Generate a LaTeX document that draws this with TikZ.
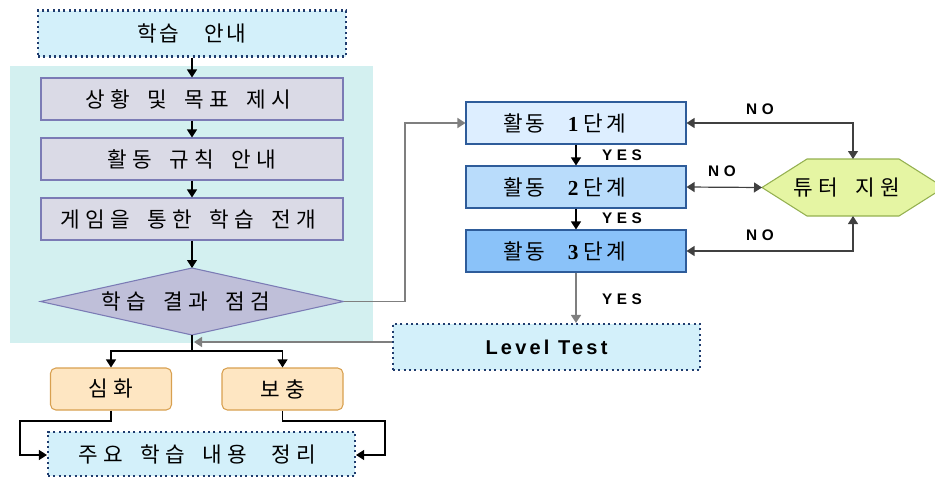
\documentclass[tikz,border=0pt]{standalone}
\usepackage{fontspec}
\setmainfont{Liberation Sans}
\newfontfamily\ko{Noto Sans CJK KR}
\newfontfamily\numf{Liberation Serif}
\newfontfamily\labf[LetterSpace=30]{Liberation Sans}
\newfontfamily\ltf[LetterSpace=16]{Liberation Sans}
\newcommand{\kc}[1]{\makebox[18.75pt]{#1}}
\newcommand{\kgs}{\hspace{2pt}}
\usetikzlibrary{arrows.meta}
\definecolor{bgcyan}{HTML}{D3F0F0}
\definecolor{introfill}{HTML}{D3F0FA}
\definecolor{dotline}{HTML}{1F3C6E}
\definecolor{greyfill}{HTML}{DADAE6}
\definecolor{greyline}{HTML}{7B7BB5}
\definecolor{diafill}{HTML}{BFBFD9}
\definecolor{orfill}{HTML}{FEE6C2}
\definecolor{orline}{HTML}{D8A050}
\definecolor{stepa}{HTML}{DDEEFF}
\definecolor{stepb}{HTML}{B9DCFB}
\definecolor{stepc}{HTML}{8AC2F9}
\definecolor{stepline}{HTML}{2E5C9A}
\definecolor{hexfill}{HTML}{E5F5A3}
\definecolor{hexline}{HTML}{94B050}
\definecolor{conngrey}{HTML}{7F7F7F}
\tikzset{
  kofont/.style={font={\ko\fontsize{16}{19}\selectfont\spaceskip=9pt\relax}},
  basebox/.style={rectangle, inner sep=0pt, kofont},
  dotbox/.style={basebox, fill=introfill, draw=dotline, line width=1.6pt,
    dash pattern=on 1.6pt off 2.4pt},
  greybox/.style={basebox, fill=greyfill, draw=greyline, line width=0.8pt,
    minimum width=302*0.75pt, minimum height=42*0.75pt},
  orbox/.style={basebox, fill=orfill, draw=orline, line width=0.8pt, rounded corners=4pt,
    minimum width=121*0.75pt, minimum height=42*0.75pt},
  stepbox/.style={basebox, draw=stepline, line width=0.8pt,
    minimum width=220*0.75pt, minimum height=42*0.75pt},
  lbl/.style={font={\labf\bfseries\fontsize{11.5}{13}\selectfont}, inner sep=0pt},
  tip/.style={-{Triangle[width=7.5pt,length=6pt]}},
  dtip/.style={{Triangle[width=7.5pt,length=6pt]}-{Triangle[width=7.5pt,length=6pt]}},
  blk/.style={draw=black, line width=0.8pt},
  gry/.style={draw=conngrey, line width=1.1pt},
  dgry/.style={draw=black!75, line width=0.9pt},
}
\begin{document}
\begin{tikzpicture}[x=0.75pt,y=-0.75pt]
\useasboundingbox (0,0) rectangle (935,479);
% shaded background region
\fill[bgcyan] (10,66) rectangle (373,343);

% left column
\node[dotbox, minimum width=308*0.75pt, minimum height=46*0.75pt] (intro) at (192,33.5)
  {학\kgs 습\hspace{19pt}안\kgs 내};
\node[greybox] (s1) at (192,99) {};
\node[basebox] (s1text) at (188,99) {\kc{상}\kc{황} \kc{및} \kc{목}\kc{표} \kc{제}\kc{시}};
\node[greybox] (s2) at (192,159) {\kc{활}\kc{동} \kc{규}\kc{칙} \kc{안}\kc{내}};
\node[greybox] (s3) at (192,219) {};
\node[basebox] (s3text) at (188,219) {\kc{게}\kc{임}\kc{을} \kc{통}\kc{한} \kc{학}\kc{습} \kc{전}\kc{개}};

% diamond
\coordinate (dT) at (192,268);
\coordinate (dR) at (343.5,301.5);
\coordinate (dB) at (192,335);
\coordinate (dL) at (40.5,301.5);
\filldraw[fill=diafill, draw=greyline, line width=0.8pt] (dT) -- (dR) -- (dB) -- (dL) -- cycle;
\node[basebox] (check) at (186,301.5) {\kc{학}\kc{습} \kc{결}\kc{과} \kc{점}\kc{검}};

\draw[blk, tip] (intro.south) -- (s1.north);
\draw[blk, tip] (s1.south) -- (s2.north);
\draw[blk, tip] (s2.south) -- (s3.north);
\draw[blk, tip] (s3.south) -- (dT);

% branch below diamond
\node[orbox] (deep) at (111,389) {\kc{심}\kc{화}};
\node[orbox] (supp) at (282.5,389) {\kc{보}\kc{충}};
\node[dotbox, minimum width=307*0.75pt, minimum height=44*0.75pt] (sum) at (201.5,454) {};
\node[basebox] (sumtext) at (197,454)
  {\kc{주}\kc{요} \kc{학}\kc{습} \kc{내}\kc{용}\hspace{5pt} \kc{정}\kc{리}};
\coordinate (split) at (192,351);
\draw[blk] (dB) -- (split);
\draw[blk, tip] (split) -| (deep.north);
\draw[blk, tip] (split) -| (supp.north);
\draw[blk, tip] (deep.south) |- (20,421) |- (sum.west |- 0,455);
\draw[blk, tip] (supp.south) |- (385,421) |- (sum.east |- 0,455);

% right column
\node[stepbox, fill=stepa] (a1) at (576,123) {};
\node[stepbox, fill=stepb] (a2) at (576,187) {};
\node[stepbox, fill=stepc] (a3) at (576,251) {};
\node[basebox, anchor=west] (t1) at (503,123) {활\kgs 동\hspace{17pt}{\numf\bfseries 1}\hspace{4pt}단\kgs 계};
\node[basebox, anchor=west] (t2) at (503,187) {활\kgs 동\hspace{17pt}{\numf\bfseries 2}\hspace{4pt}단\kgs 계};
\node[basebox, anchor=west] (t3) at (503,251) {활\kgs 동\hspace{17pt}{\numf\bfseries 3}\hspace{4pt}단\kgs 계};
\node[dotbox, minimum width=307*0.75pt, minimum height=46*0.75pt,
  font={\ltf\bfseries\fontsize{15}{18}\selectfont}] (lt) at (546.5,347) {Level Test};

\draw[blk, tip] (a1.south) -- (a2.north);
\draw[blk, tip] (a2.south) -- (a3.north);
\draw[gry, tip] (a3.south) -- (lt.north -| a3.south);
\node[lbl] (y1) at (622,155) {YES};
\node[lbl] (y2) at (622,218) {YES};
\node[lbl] (y3) at (622,299) {YES};

% diamond -> step 1
\draw[gry, tip] (dR) -- (405,301.5) |- (a1.west);
% Level Test -> back to left column
\draw[gry, tip] (lt.west |- 0,342) -- (194,342);

% tutor hexagon
\coordinate (hL) at (762,187.5);
\coordinate (hT) at (853,159);
\coordinate (hB) at (853,216);
\begin{scope}
\clip (0,0) rectangle (935,479);
\filldraw[fill=hexfill, draw=hexline, line width=0.8pt]
  (hL) -- (807,159) -- (899,159) -- (944,187.5) -- (899,216) -- (807,216) -- cycle;
\end{scope}
\node[basebox] (tutor) at (847,187.5) {\kc{튜}\kc{터} \kc{지}\kc{원}};

\draw[dgry, dtip] (a1.east) -- (a1.east -| hT) -- (hT);
\draw[dgry, dtip] (a2.east) -- (hL);
\draw[dgry, dtip] (a3.east) -- (a3.east -| hB) -- (hB);
\node[lbl] (n1) at (760,109) {NO};
\node[lbl] (n2) at (722,171) {NO};
\node[lbl] (n3) at (760,235) {NO};
\end{tikzpicture}
\end{document}
